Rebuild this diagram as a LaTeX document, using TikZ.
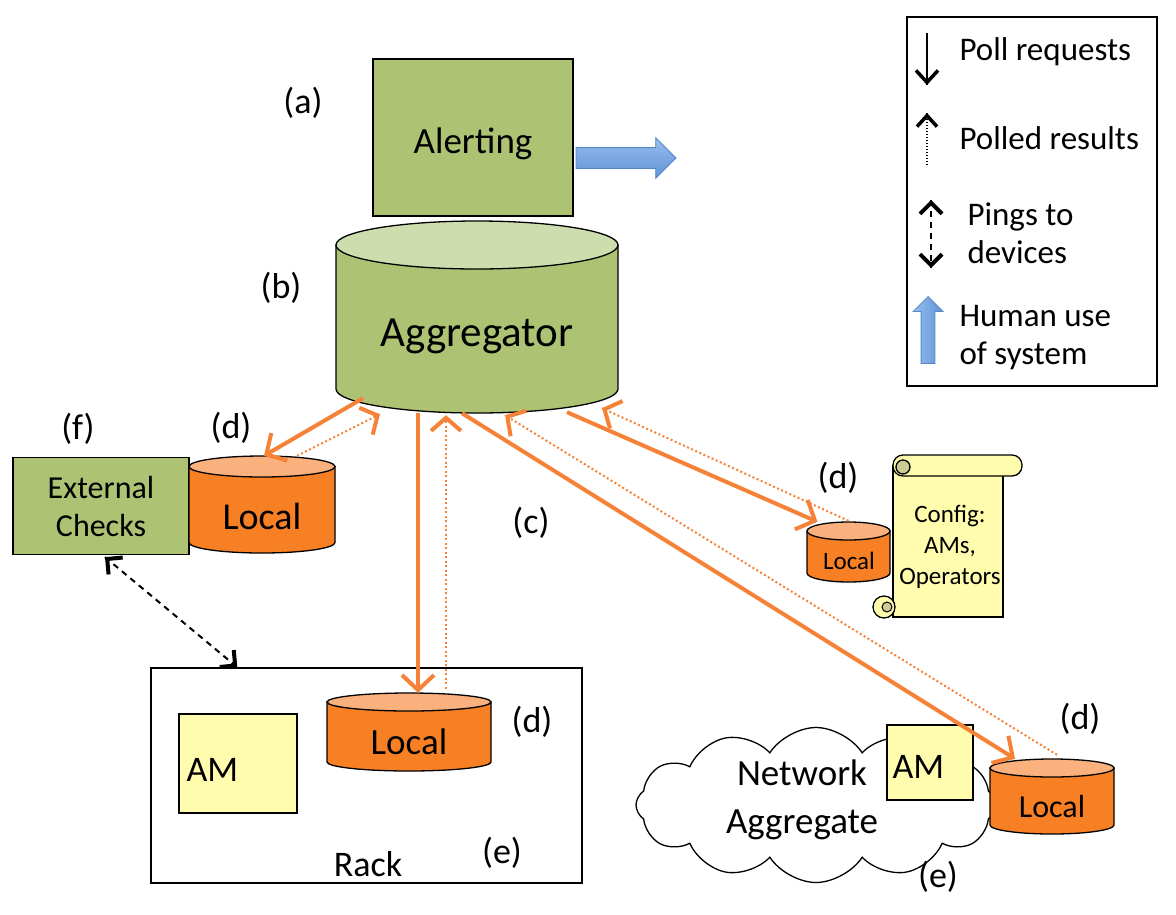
\documentclass[tikz,border=0pt]{standalone}
\usepackage{fontspec}
\setmainfont{Carlito}
\usetikzlibrary{shapes,shapes.arrows,shapes.symbols,arrows.meta,positioning,calc,decorations.markings}

\definecolor{aggbody}{RGB}{173,195,115}
\definecolor{aggtop}{RGB}{206,221,174}
\definecolor{localbody}{RGB}{248,128,36}
\definecolor{localtop}{RGB}{250,177,126}
\definecolor{conn}{RGB}{245,130,55}
\definecolor{amfill}{RGB}{255,252,174}
\definecolor{cfgdark}{RGB}{205,203,148}
\definecolor{arrowlight}{RGB}{150,190,238}
\definecolor{arrowdark}{RGB}{96,146,212}
\definecolor{arrowedge}{RGB}{85,135,200}

% database drum: name, centre x, centre y, x radius, half height, y radius, colour stem
\newcommand{\dbdrum}[7]{%
  \node[minimum width={2*#4}, minimum height={2*#5}, inner sep=0pt] (#1) at (#2,#3) {};
  \filldraw[fill=#7body, line width=1.3pt] ({#2-#4},{#3-#5+#6}) -- ({#2-#4},{#3+#5-#6})
    arc[start angle=180, end angle=0, x radius=#4, y radius=#6] -- ({#2+#4},{#3-#5+#6}) -- cycle;
  \filldraw[fill=#7top, line width=1.3pt] (#2,{#3-#5+#6}) ellipse[x radius=#4, y radius=#6];
}

\begin{document}
\begin{tikzpicture}[x=1pt, y=-1pt,
    box/.style={draw, line width=1.3pt},
    lbl/.style={font=\fontsize{36}{42}\selectfont},
    legtxt/.style={font=\fontsize{33}{38}\selectfont, anchor=west, align=left},
    humanarrow/.style={single arrow, draw=arrowedge, line width=0.8pt, inner sep=0pt,
        single arrow head indent=0pt},
    % heads drawn as marks so they stay solid on dotted lines
    endhead/.style n args={4}{postaction={decorate, decoration={markings,
        mark=at position 1 with {\arrow[solid, line width=#1, #4]{Straight Barb[length=#2, width=#3]}}}}},
    starthead/.style n args={4}{postaction={decorate, decoration={markings,
        mark=at position 0 with {\arrowreversed[solid, line width=#1, #4]{Straight Barb[length=#2, width=#3]}}}}},
    req/.style={draw=conn, line width=4pt, -{Straight Barb[length=15pt, width=32pt]}},
    res/.style={draw=conn, line width=2pt, dash pattern=on 2pt off 2.5pt,
        endhead={4pt}{13pt}{30pt}{conn}},
    legreq/.style={line width=1.5pt, endhead={3.5pt}{12pt}{22pt}{black}},
    legres/.style={line width=1.5pt, dash pattern=on 1.5pt off 1.5pt, endhead={3.5pt}{11pt}{20pt}{black}},
    ping/.style={line width=2pt, dash pattern=on 6pt off 5pt,
        endhead={4pt}{11pt}{22pt}{black}, starthead={4pt}{11pt}{22pt}{black}}]
\useasboundingbox (0,0) rectangle (1176,914);

% Alerting and aggregator
\node[box, fill=aggbody, minimum width=200pt, minimum height=157pt] (alert) at (473,137.5) {};
\node[font=\fontsize{37}{44}\selectfont] (alerttext) at (473,144) {Alerting};
\node[humanarrow, minimum height=100pt, inner ysep=10pt, single arrow head extend=10pt,
    top color=arrowlight, bottom color=arrowdark, anchor=tail] (alertout) at ($(alert.east)+(2,20.5)$) {};
\dbdrum{agg}{477}{317}{141}{96}{24}{agg}
\node[font=\fontsize{43}{50}\selectfont] (aggtext) at (477,336) {Aggregator};

% External checks and local store
\node[box, fill=aggbody, minimum width=176pt, minimum height=97pt, align=center,
    font=\fontsize{32}{38}\selectfont] (extchk) at (101,506) {External\\Checks};
\dbdrum{local1}{262}{504.5}{73}{48.5}{10.5}{local}
\node[font=\fontsize{38}{44}\selectfont] (local1text) at (262,516) {Local};

% Config store
\dbdrum{local2}{848.5}{552}{41.5}{30}{9}{local}
\node[font=\fontsize{25}{30}\selectfont] (local2text) at (849,561) {Local};
\filldraw[fill=amfill, line width=1.3pt] (893,466) rectangle (1003,617);
\filldraw[fill=amfill, line width=1.3pt, rounded corners=10pt] (893,455) rectangle (1022,476);
\filldraw[fill=cfgdark, line width=1.3pt] (903,467) circle[radius=7];
\filldraw[fill=amfill, line width=1.3pt] (884,607) circle[radius=11];
\filldraw[fill=cfgdark, line width=1pt] (887,607) circle[radius=5];
\node[align=center, font=\fontsize{25}{31}\selectfont] (cfg) at (950,547) {Config:\\AMs,\\Operators};

% Rack
\node[box, minimum width=431pt, minimum height=215pt] (rack) at (366.5,775.5) {};
\node[font=\fontsize{36}{42}\selectfont] (racktext) at (368,864) {Rack};
\node[box, fill=amfill, minimum width=118pt, minimum height=99pt] (rackam) at (238,763.5) {};
\node[font=\fontsize{36}{42}\selectfont, anchor=west] (rackamtext) at (183,770) {AM};
\dbdrum{local3}{409}{732}{82}{39}{9}{local}
\node[font=\fontsize{37}{44}\selectfont] (local3text) at (409,742) {Local};

% Network aggregate
\node[cloud, draw, line width=1.3pt, fill=white, cloud puffs=12, cloud puff arc=115, aspect=2.4,
    minimum width=360pt, minimum height=155pt, inner sep=0pt] (netcloud) at (816,805) {};
\node[align=center, font=\fontsize{37}{48}\selectfont] (nettext) at (802,800) {Network\\Aggregate};
\node[box, fill=amfill, minimum width=86pt, minimum height=75pt] (netam) at (930,762.5) {};
\node[font=\fontsize{36}{42}\selectfont, anchor=west] (netamtext) at (889,767) {AM};
\dbdrum{local4}{1052}{796.5}{62}{37.5}{9}{local}
\node[font=\fontsize{32}{38}\selectfont] (local4text) at (1052,806) {Local};

% Labels
\foreach \nm/\x/\y/\t in {la/303/103/a, lb/281/288/b, lc/531/523/c, ld1/231/428/d, lf/78/429/f,
    ld2/838/478/d, ld3/532/722/d, le1/502/853/e, ld4/1080/719/d, le2/938/877/e}
    \node[lbl] (\nm) at (\x,\y) {(\t)};

% Polls and results
\draw[req] ($(agg.south)+(-114,-15)$) -- ($(local1.north)+(2,0)$);
\draw[res] ($(local1.north)+(35,0)$) -- ($(agg.south)+(-97,1)$);
\draw[req] ($(agg.south)+(-59,0)$) -- ($(local3.north)+(9,0)$);
\draw[res] ($(local3.north)+(37,-4)$) -- ($(agg.south)+(-31,2)$);
\draw[req] ($(agg.south)+(-15,0)$) -- ($(local4.north)+(-37,0)$);
\draw[res] ($(local4.north)+(5,-4)$) -- ($(agg.south)+(28,2)$);
\draw[req] ($(agg.south)+(90,-1)$) -- ($(local2.north)+(-31,0)$);
\draw[res] ($(local2.north)+(0,-1)$) -- ($(agg.south)+(125,-5)$);

% Pings
\draw[ping] ($(extchk.south)+(4,2)$) -- ($(rack.north west)+(87,0)$);

% Legend
\node[box, minimum width=250pt, minimum height=369pt] (legend) at (1032,201.5) {};
\foreach \nm/\x/\y/\txt in {legreqtxt/956/52/Poll requests, legrestxt/956/138/Polled results,
    legpingtxt/964/233/{Pings to\\devices}, leghumtxt/956/338/{Human use\\of system}}
    \node[legtxt] (\nm) at (\x,\y) {\txt};
\coordinate (reqtop) at (927,33);
\coordinate (reqbot) at (927,85);
\draw[legreq] (reqtop) -- (reqbot);
\coordinate (restop) at (927,113);
\coordinate (resbot) at (927,165);
\draw[legres] (resbot) -- (restop);
\coordinate (pingtop) at (931,200);
\coordinate (pingbot) at (931,268);
\draw[ping] (pingtop) -- (pingbot);
\node[humanarrow, shape border rotate=90, minimum height=67pt, inner xsep=6.5pt,
    single arrow head extend=8pt, left color=arrowlight, right color=arrowdark] (leghum) at (928,333.5) {};
\end{tikzpicture}
\end{document}
